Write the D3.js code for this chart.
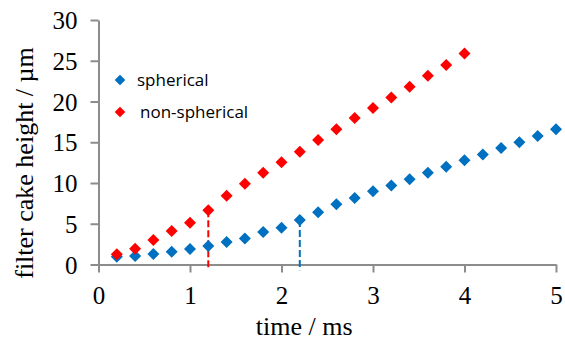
<!DOCTYPE html>
<html>
<head>
<meta charset="utf-8">
<script src="https://cdn.jsdelivr.net/npm/d3@7.9.0/dist/d3.min.js"></script>
<style>
  body { margin: 0; background: #fff; }
  svg { display: block; }
</style>
</head>
<body>
<svg id="chart" width="565" height="341"></svg>
<script>
// time in ms
const sphericalTime = [0.2, 0.4, 0.6, 0.8, 1.0, 1.2, 1.4, 1.6, 1.8, 2.0, 2.2, 2.4, 2.6, 2.8, 3.0, 3.2, 3.4, 3.6, 3.8, 4.0, 4.2, 4.4, 4.6, 4.8, 5.0];
const sphericalHeight = [0.96, 1.05, 1.29, 1.57, 1.9, 2.27, 2.76, 3.2, 4.0, 4.5, 5.46, 6.4, 7.39, 8.16, 8.98, 9.7, 10.45, 11.27, 12.0, 12.78, 13.5, 14.3, 15.0, 15.77, 16.6];
const nonSphTime = [0.2, 0.4, 0.6, 0.8, 1.0, 1.2, 1.4, 1.6, 1.8, 2.0, 2.2, 2.4, 2.6, 2.8, 3.0, 3.2, 3.4, 3.6, 3.8, 4.0];
const nonSphHeight = [1.25, 1.94, 3.0, 4.1, 5.13, 6.65, 8.44, 9.9, 11.27, 12.54, 13.84, 15.28, 16.6, 17.98, 19.2, 20.5, 21.8, 23.17, 24.48, 25.9];
const xTicks = [0, 1, 2, 3, 4, 5];
const yTicks = [0, 5, 10, 15, 20, 25, 30];
// dashed markers: [time, height at marker]
const markLines = [
  { name: 'non-spherical', t: 1.2, h: 6.65 },
  { name: 'spherical', t: 2.2, h: 5.46 }
];

const colors = { 'spherical': '#0070C0', 'non-spherical': '#FF0000' };
const axisColor = '#8c8c8c';

const svg = d3.select('#chart');
const x = d3.scaleLinear().domain([0, 5]).range([98.5, 556]);
const y = d3.scaleLinear().domain([0, 30]).range([264.5, 20]);

// axes
const xAxis = svg.append('g')
  .attr('transform', `translate(0,${y(0)})`)
  .call(d3.axisBottom(x).tickValues(xTicks).tickFormat(d3.format('d'))
    .tickSize(8).tickSizeOuter(0).tickPadding(14));
const yAxis = svg.append('g')
  .attr('transform', `translate(${x(0)},0)`)
  .call(d3.axisLeft(y).tickValues(yTicks).tickFormat(d3.format('d'))
    .tickSize(8).tickSizeOuter(0).tickPadding(13));

[xAxis, yAxis].forEach(a => {
  a.select('.domain').attr('stroke', axisColor).attr('stroke-width', 2);
  a.selectAll('.tick line').attr('stroke', axisColor).attr('stroke-width', 2);
  a.selectAll('.tick text')
    .attr('fill', '#000')
    .style('font-family', '"Liberation Serif", "Times New Roman", serif')
    .style('font-size', '25px');
});
xAxis.selectAll('.tick text').attr('dy', '0.71em');
yAxis.selectAll('.tick text').attr('dy', '0.34em');

// axis titles
svg.append('text')
  .attr('x', x(2.5) - 23)
  .attr('y', 335)
  .attr('text-anchor', 'middle')
  .style('font-family', '"Liberation Serif", "Times New Roman", serif')
  .style('font-size', '26px')
  .text('time / ms');

svg.append('text')
  .attr('transform', 'translate(33,163) rotate(-90)')
  .attr('text-anchor', 'middle')
  .style('font-family', '"Liberation Serif", "Times New Roman", serif')
  .style('font-size', '26px')
  .text('filter cake height / µm');

// dashed drop lines
svg.selectAll('.drop')
  .data(markLines)
  .join('line')
  .attr('class', 'drop')
  .attr('x1', d => x(d.t))
  .attr('x2', d => x(d.t))
  .attr('y1', d => y(d.h))
  .attr('y2', y(-0.7))
  .attr('stroke', d => colors[d.name])
  .attr('stroke-width', 2)
  .attr('stroke-dasharray', '7,3');

// markers
const diamond = d3.symbol().type(d3.symbolSquare).size(72);
function drawSeries(times, heights, color) {
  svg.append('g')
    .selectAll('path')
    .data(times.map((t, i) => [t, heights[i]]))
    .join('path')
    .attr('d', diamond)
    .attr('transform', d => `translate(${x(d[0])},${y(d[1])}) rotate(45)`)
    .attr('fill', color);
}
drawSeries(sphericalTime, sphericalHeight, colors['spherical']);
drawSeries(nonSphTime, nonSphHeight, colors['non-spherical']);

// legend
const legendItems = [
  { name: 'spherical', label: 'spherical', y: 80, tx: 137 },
  { name: 'non-spherical', label: 'non-spherical', y: 112, tx: 140 }
];
const legend = svg.append('g');
legendItems.forEach(d => {
  legend.append('path')
    .attr('d', d3.symbol().type(d3.symbolSquare).size(56))
    .attr('transform', `translate(120,${d.y}) rotate(45)`)
    .attr('fill', colors[d.name]);
  legend.append('text')
    .attr('x', d.tx)
    .attr('y', d.y + 6)
    .style('font-family', '"Open Sans", "Liberation Sans", sans-serif')
    .style('font-size', '17px')
    .text(d.label);
});
</script>
</body>
</html>
